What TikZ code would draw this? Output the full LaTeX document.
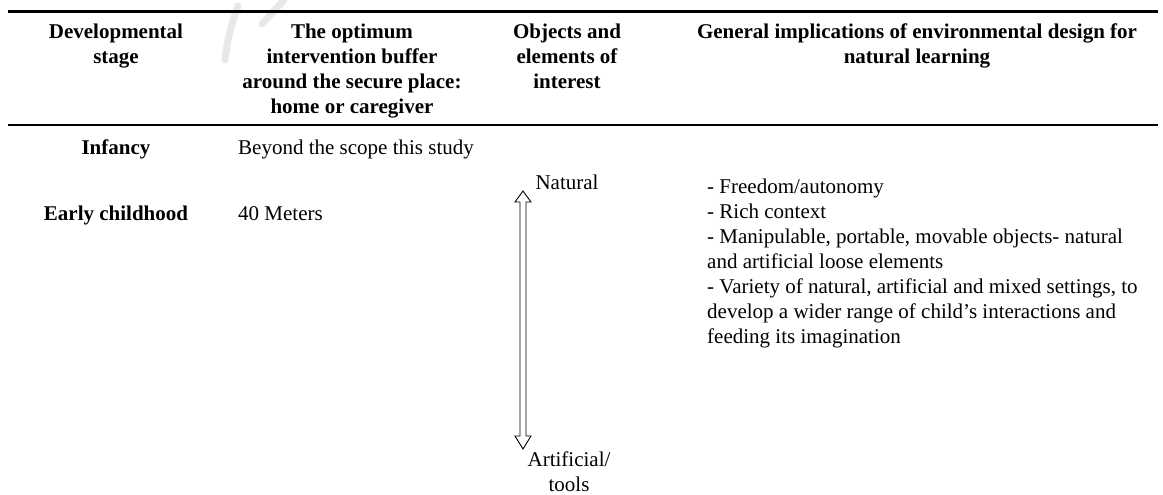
\documentclass[tikz,border=0pt]{standalone}
\usepackage{fontspec}
\setmainfont{Liberation Serif}
\usetikzlibrary{calc}
\begin{document}
\begin{tikzpicture}[x=1pt,y=-1pt,
  cell/.style={inner sep=0pt, font={\fontsize{21}{25}\selectfont}},
  hdr/.style={inner sep=0pt, font={\fontsize{21}{25}\selectfont\bfseries}, align=center, anchor=north},
  rowlab/.style={inner sep=0pt, font={\fontsize{21}{25}\selectfont\bfseries}, anchor=base},
  toprule/.style={line width=3pt},
  midrule/.style={line width=2pt},
  hollowarrow/.style={draw=black, line width=0.9pt, fill=white, line join=miter},
  wmark/.style={draw=black!9, line width=7pt, line cap=round}
]
\useasboundingbox (0,0) rectangle (1163,495);

% faint watermark fragment
\draw[wmark] (238,6) .. controls (231,25) and (227,42) .. (225,60);
\draw[wmark] (262,24) -- (284,0);

% rules
\coordinate (trl) at (8,12);
\coordinate (trr) at (1158,12);
\coordinate (mrl) at (8,125);
\coordinate (mrr) at (1158,125);
\draw[toprule] (trl) -- (trr);
\draw[midrule] (mrl) -- (mrr);

% header
\node[hdr] (h1) at (116,20.5) {\strut Developmental\\stage};
\node[hdr] (h2) at (352,20.5) {\strut The optimum\\intervention buffer\\around the secure place:\\home or caregiver};
\node[hdr] (h3) at (567,20.5) {\strut Objects and\\elements of\\interest};
\node[hdr] (h4) at (917,20.5) {\strut General implications of environmental design for\\natural learning};

% rows
\node[rowlab] (inf) at (116,154) {Infancy};
\node[cell, anchor=base west] (infb) at (238,154) {Beyond the scope this study};
\node[rowlab] (early) at (116,220) {Early childhood};
\node[cell, anchor=base west] (earlyb) at (238,220) {40 Meters};

% objects column
\node[cell, anchor=base] (nat) at (567,189) {Natural};
\node[cell, anchor=north, align=center] (art) at (569,448.5) {\strut Artificial/\\tools};

\coordinate (at) at (523,191);
\coordinate (ab) at (523,449);
\draw[hollowarrow] (at) -- ++(8,11) -- ++(-5,0) -- ($(ab)+(3,-13)$) -- ++(5,0) -- (ab)
  -- ++(-8,-13) -- ++(5,0) -- ($(at)+(-3,11)$) -- ++(-5,0) -- cycle;

% implications
\node[cell, anchor=north west, align=left] (impl) at (707,175.5)
 {\strut - Freedom/autonomy\\
  - Rich context\\
  - Manipulable, portable, movable objects- natural\\
  and artificial loose elements\\
  - Variety of natural, artificial and mixed settings, to\\
  develop a wider range of child’s interactions and\\
  feeding its imagination};
\end{tikzpicture}
\end{document}
